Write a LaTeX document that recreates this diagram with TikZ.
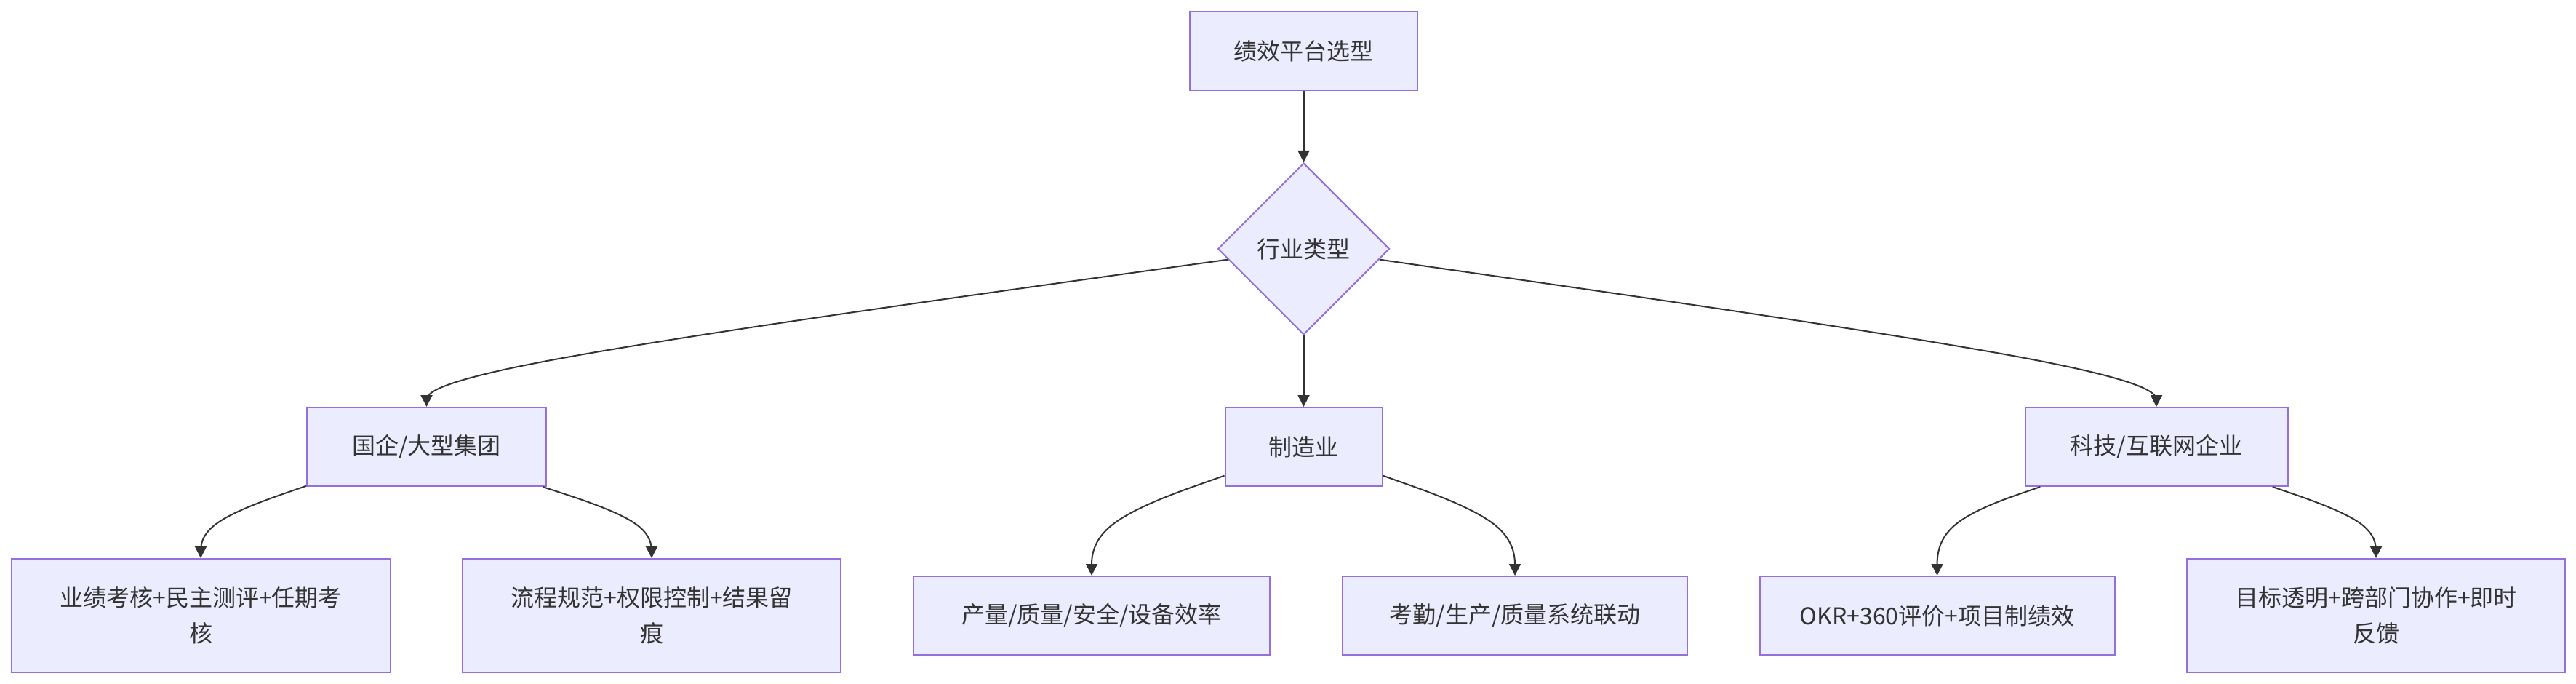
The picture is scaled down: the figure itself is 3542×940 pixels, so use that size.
\documentclass[tikz,border=0pt]{standalone}
\usepackage{fontspec}
\setmainfont{Noto Sans CJK SC}
\usetikzlibrary{shapes.geometric,arrows.meta,calc}
\definecolor{nodefill}{HTML}{ECECFF}
\definecolor{nodeline}{HTML}{9370DB}
\definecolor{txt}{HTML}{333333}
% basis-spline edge: #1 start node, #2 border angle, #3 target node, #4 level coordinate
\newcommand\mmedge[4]{%
  \path (#1.#2) coordinate (bs) (#3.north |- #4) coordinate (bp) (#3.north) coordinate (be);
  \draw[edge] (bs) -- ($0.8333*(bs)+0.1667*(bp)$)
    .. controls ($0.6667*(bs)+0.3333*(bp)$) and ($0.3333*(bs)+0.6667*(bp)$) ..
    ($0.1667*(bs)+0.6667*(bp)+0.1667*(be)$)
    .. controls ($0.6667*(bp)+0.3333*(be)$) and ($0.3333*(bp)+0.6667*(be)$) ..
    ($0.1667*(bp)+0.8333*(be)$) -- (be);
}
\begin{document}
\begin{tikzpicture}[x=0.5pt,y=-0.5pt,
  box/.style={draw=nodeline, fill=nodefill, line width=1pt, text=txt,
    font=\fontsize{16pt}{24.5pt}\selectfont, align=center, inner sep=0pt},
  dia/.style={box, diamond, aspect=1},
  edge/.style={draw=txt, line width=1pt, -{Triangle[length=8pt,width=8pt]}}]
\fill[white] (0,0) rectangle (3542,940);
\useasboundingbox (0,0) rectangle (3542,940);
% levels (midlines between ranks)
\coordinate (r1) at (0,510);
\coordinate (r2) at (0,718);
% nodes
\node[box, minimum width=156.5pt, minimum height=54pt] (top) at (1792.5,70) {绩效平台选型};
\node[dia, minimum width=118pt, minimum height=118pt] (dec) at (1792.5,342) {行业类型};
\node[box, minimum width=164.5pt, minimum height=54pt] (gq) at (586.5,614) {国企/大型集团};
\node[box, minimum width=108pt, minimum height=54pt] (zz) at (1792.5,614) {制造业};
\node[box, minimum width=180.5pt, minimum height=54pt] (kj) at (2965,614) {科技/互联网企业};
\node[box, minimum width=260.5pt, minimum height=78pt] (yj) at (276,846) {业绩考核+民主测评+任期考\\核};
\node[box, minimum width=260pt, minimum height=78pt] (lc) at (896,846) {流程规范+权限控制+结果留\\痕};
\node[box, minimum width=245pt, minimum height=54pt] (cl) at (1501,846) {产量/质量/安全/设备效率};
\node[box, minimum width=237pt, minimum height=54pt] (kq) at (2083,846) {考勤/生产/质量系统联动};
\node[box, minimum width=244pt, minimum height=54pt] (okr) at (2663.5,846) {OKR+360评价+项目制绩效};
\node[box, minimum width=260pt, minimum height=78pt] (mb) at (3267,846) {目标透明+跨部门协作+即时\\反馈};
% edges
\draw[edge] (top) -- (dec);
\draw[edge] (dec) -- (zz);
\mmedge{dec}{188}{gq}{r1}
\mmedge{dec}{352}{kj}{r1}
\mmedge{gq}{198}{yj}{r2}
\mmedge{gq}{341}{lc}{r2}
\mmedge{zz}{200}{cl}{r2}
\mmedge{zz}{340}{kq}{r2}
\mmedge{kj}{199}{okr}{r2}
\mmedge{kj}{341}{mb}{r2}
\end{tikzpicture}
\end{document}
